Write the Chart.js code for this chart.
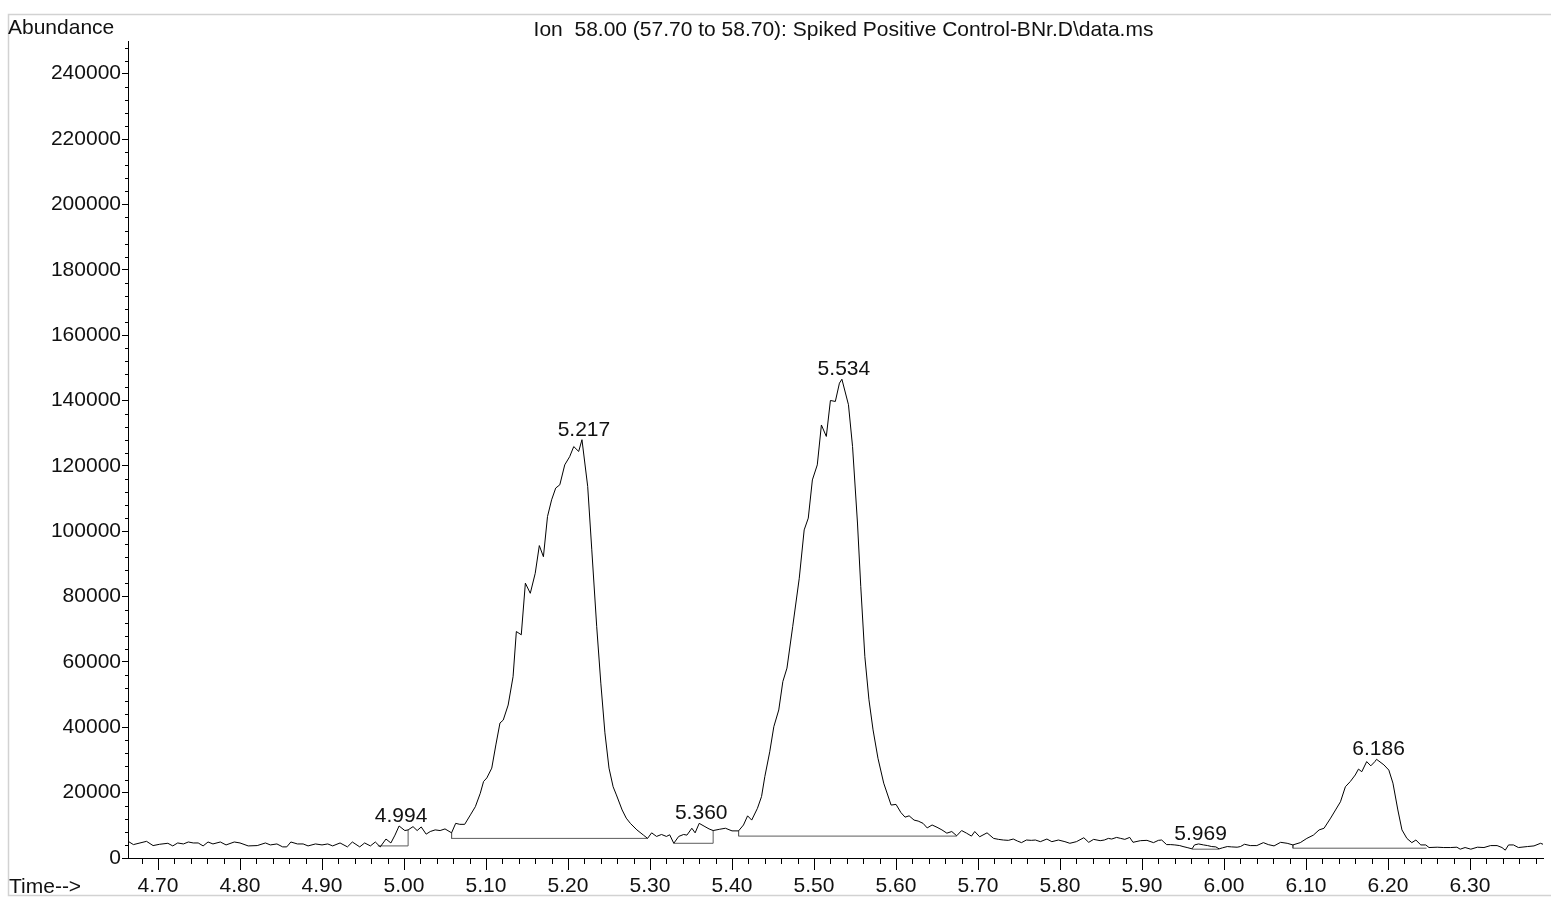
<!DOCTYPE html>
<html>
<head>
<meta charset="utf-8">
<script src="https://cdn.jsdelivr.net/npm/chart.js@4/dist/chart.umd.min.js"></script>
<style>
  html, body { margin: 0; padding: 0; background: #ffffff; overflow: hidden; }
  #wrap { width: 1551px; height: 899px; position: relative; }
  canvas { display: block; }
</style>
</head>
<body>
<div id="wrap"><canvas id="chart" width="1551" height="899"></canvas></div>
<script>
// Extracted ion chromatogram, m/z 58 (retention time in minutes, abundance in counts)
const times = [
  4.663, 4.670, 4.678, 4.686, 4.694, 4.702, 4.712, 4.718, 4.724, 4.731,
  4.737, 4.743, 4.749, 4.755, 4.761, 4.767, 4.776, 4.783, 4.793, 4.800,
  4.810, 4.821, 4.831, 4.837, 4.845, 4.852, 4.857, 4.862, 4.870, 4.877,
  4.883, 4.892, 4.900, 4.907, 4.913, 4.922, 4.931, 4.937, 4.946, 4.952,
  4.959, 4.965, 4.971, 4.978, 4.984, 4.989, 4.994, 5.001, 5.005, 5.011,
  5.016, 5.021, 5.027, 5.032, 5.038, 5.044, 5.050, 5.058, 5.063, 5.068,
  5.074, 5.081, 5.087, 5.093, 5.097, 5.101, 5.107, 5.112, 5.117, 5.121,
  5.127, 5.133, 5.137, 5.143, 5.148, 5.154, 5.160, 5.165, 5.170, 5.175,
  5.180, 5.185, 5.190, 5.196, 5.202, 5.207, 5.213, 5.217, 5.224, 5.229,
  5.235, 5.240, 5.245, 5.250, 5.255, 5.259, 5.266, 5.271, 5.276, 5.284,
  5.292, 5.297, 5.302, 5.308, 5.314, 5.320, 5.324, 5.329, 5.335, 5.341,
  5.345, 5.351, 5.355, 5.360, 5.367, 5.372, 5.377, 5.385, 5.392, 5.400,
  5.408, 5.414, 5.419, 5.424, 5.431, 5.436, 5.440, 5.446, 5.451, 5.457,
  5.462, 5.467, 5.474, 5.482, 5.488, 5.493, 5.498, 5.504, 5.509, 5.515,
  5.520, 5.526, 5.531, 5.534, 5.542, 5.547, 5.553, 5.557, 5.562, 5.567,
  5.572, 5.578, 5.585, 5.594, 5.600, 5.606, 5.611, 5.616, 5.622, 5.627,
  5.633, 5.638, 5.644, 5.650, 5.656, 5.662, 5.668, 5.674, 5.680, 5.686,
  5.692, 5.696, 5.702, 5.711, 5.719, 5.725, 5.731, 5.737, 5.743, 5.748,
  5.753, 5.759, 5.765, 5.770, 5.776, 5.784, 5.790, 5.798, 5.806, 5.812,
  5.820, 5.829, 5.835, 5.841, 5.849, 5.854, 5.859, 5.863, 5.869, 5.874,
  5.879, 5.885, 5.889, 5.898, 5.906, 5.914, 5.920, 5.924, 5.930, 5.935,
  5.940, 5.946, 5.950, 5.955, 5.961, 5.964, 5.969, 5.975, 5.980, 5.985,
  5.990, 5.994, 5.998, 6.004, 6.009, 6.016, 6.020, 6.025, 6.032, 6.040,
  6.048, 6.054, 6.061, 6.069, 6.077, 6.084, 6.093, 6.101, 6.109, 6.116,
  6.122, 6.130, 6.136, 6.142, 6.148, 6.154, 6.160, 6.164, 6.168, 6.174,
  6.179, 6.184, 6.186, 6.195, 6.201, 6.206, 6.212, 6.217, 6.223, 6.229,
  6.234, 6.240, 6.246, 6.250, 6.260, 6.268, 6.276, 6.284, 6.288, 6.294,
  6.301, 6.309, 6.317, 6.325, 6.333, 6.339, 6.343, 6.347, 6.353, 6.359,
  6.370, 6.378, 6.386, 6.389
];
const abundance = [
  5200, 4100, 4600, 5100, 3800, 4200, 4500, 3700, 4600, 4300,
  4900, 4600, 4600, 3700, 4900, 4300, 4900, 4000, 4900, 4600,
  3700, 3800, 4600, 4000, 4300, 3400, 3400, 4900, 4300, 4300,
  3700, 4300, 4000, 4300, 3700, 4600, 3400, 4900, 3400, 4600,
  3700, 4900, 3400, 5800, 4600, 7000, 9800, 8400, 8600, 9600,
  8400, 9500, 7300, 8100, 8600, 8400, 8900, 7700, 10600, 10300,
  10300, 13200, 15700, 19800, 23400, 24500, 27500, 34600, 41300, 42200,
  46800, 55500, 69300, 68300, 84100, 81000, 87100, 95600, 92200, 104500,
  109600, 113200, 114200, 120300, 122800, 125900, 124400, 128000, 113700, 94300,
  70800, 53500, 38300, 27500, 21800, 19300, 14700, 12200, 10600, 8600,
  7000, 6000, 7700, 6600, 7200, 6600, 7100, 4500, 6600, 7200,
  7000, 9100, 7700, 10600, 9600, 8900, 8400, 8800, 9100, 8300,
  8300, 10100, 12900, 11600, 15200, 18800, 24900, 32500, 40200, 45300,
  54000, 58100, 70800, 85600, 100400, 104000, 115700, 120300, 132500, 129000,
  140000, 139700, 145300, 146500, 138700, 125900, 102500, 83100, 61600, 48400,
  39200, 30500, 22900, 16200, 16400, 13900, 12500, 12900, 11600, 11300,
  10600, 9200, 10100, 9400, 8600, 7600, 8100, 6800, 8400, 7600,
  6700, 8100, 6500, 7700, 6000, 5700, 5500, 5400, 5800, 5200,
  4700, 5500, 5400, 5500, 5000, 5800, 5000, 5500, 5000, 4500,
  5000, 6200, 4800, 5700, 5300, 5500, 6000, 5800, 6300, 6000,
  5700, 6300, 4800, 5300, 5400, 4700, 5400, 5500, 4100, 4100,
  4000, 3800, 3500, 3200, 2800, 4000, 4300, 4000, 3800, 3500,
  3400, 2800, 3100, 3500, 3400, 3300, 3500, 4200, 3800, 3800,
  4700, 4100, 3700, 4800, 4500, 4000, 4700, 6000, 7000, 8600,
  9100, 12200, 14700, 17200, 21800, 23400, 25400, 27200, 26400, 29500,
  28200, 29500, 30200, 28500, 26900, 22900, 14700, 8600, 6000, 4700,
  5500, 4000, 4000, 3200, 3300, 3200, 3200, 3300, 2700, 3200,
  2700, 3300, 3200, 3800, 3800, 3200, 2400, 4000, 4000, 3200,
  3500, 3700, 4500, 4200
];

// Integrated peaks: retention time labels
const peakTimes = [4.994, 5.217, 5.360, 5.534, 5.969, 6.186];
const peakLabels = ['4.994', '5.217', '5.360', '5.534', '5.969', '6.186'];

// Integration baselines (time, abundance) for each peak
const base4994Times = [4.968, 5.005, 5.005];
const base4994Values = [3700, 3700, 8600];
const base5217Times = [5.058, 5.058, 5.297];
const base5217Values = [7700, 6000, 6000];
const base5360Times = [5.329, 5.377, 5.377];
const base5360Values = [4500, 4500, 8400];
const base5534Times = [5.408, 5.408, 5.674];
const base5534Values = [8300, 6700, 6700];
const base5969Times = [5.961, 5.994];
const base5969Values = [2700, 2700];
const base6186Times = [6.084, 6.084, 6.247];
const base6186Values = [4000, 3000, 3000];

// Axis ticks
const xTickLabels = ['4.70', '4.80', '4.90', '5.00', '5.10', '5.20', '5.30', '5.40',
  '5.50', '5.60', '5.70', '5.80', '5.90', '6.00', '6.10', '6.20', '6.30'];
const yTickLabels = ['0', '20000', '40000', '60000', '80000', '100000', '120000',
  '140000', '160000', '180000', '200000', '220000', '240000'];

const X_MIN = 4.6634, X_MAX = 6.389;
const Y_MIN = 0, Y_MAX = 250000;

const FONT = '"Liberation Sans", Arial, Helvetica, sans-serif';
const FONT_SIZE = 21;
const TEXT_COLOR = '#111111';

const toPoints = (ts, vs) => ts.map((t, i) => ({ x: t, y: vs[i] }));

const baselineSets = [
  [base4994Times, base4994Values],
  [base5217Times, base5217Values],
  [base5360Times, base5360Values],
  [base5534Times, base5534Values],
  [base5969Times, base5969Values],
  [base6186Times, base6186Values]
].map(([ts, vs]) => ({
  data: toPoints(ts, vs),
  borderColor: '#5c5c5c',
  borderWidth: 1,
  pointRadius: 0,
  tension: 0,
  fill: false
}));

// Outer frame of the report panel
const framePlugin = {
  id: 'frame',
  beforeDraw(chart) {
    const ctx = chart.ctx;
    ctx.save();
    ctx.fillStyle = '#ffffff';
    ctx.fillRect(0, 0, chart.width, chart.height);
    ctx.strokeStyle = '#d2d2d2';
    ctx.lineWidth = 1.5;
    ctx.beginPath();
    ctx.moveTo(chart.width, 14.5);
    ctx.lineTo(8.5, 14.5);
    ctx.lineTo(8.5, 895.5);
    ctx.lineTo(chart.width, 895.5);
    ctx.stroke();
    ctx.restore();
  }
};

// Minor tick marks on both axes
const minorTickPlugin = {
  id: 'minorTicks',
  afterDraw(chart) {
    const { ctx, chartArea: a } = chart;
    const xs = chart.scales.x, ys = chart.scales.y;
    ctx.save();
    ctx.strokeStyle = '#000000';
    ctx.lineWidth = 1;
    ctx.beginPath();
    for (let k = Math.ceil(xs.min / 0.02); k * 0.02 <= xs.max + 1e-9; k++) {
      if (k % 5 === 0) continue;
      const px = Math.round(xs.getPixelForValue(k * 0.02)) + 0.5;
      ctx.moveTo(px, a.bottom);
      ctx.lineTo(px, a.bottom + 6);
    }
    for (let k = 1; k * 4000 <= ys.max; k++) {
      if (k % 5 === 0) continue;
      const py = Math.round(ys.getPixelForValue(k * 4000)) + 0.5;
      ctx.moveTo(a.left - 3, py);
      ctx.lineTo(a.left, py);
    }
    ctx.stroke();
    ctx.restore();
  }
};

// Retention time labels above each integrated peak
const peakLabelPlugin = {
  id: 'peakLabels',
  afterDatasetsDraw(chart) {
    const { ctx } = chart;
    const xs = chart.scales.x, ys = chart.scales.y;
    ctx.save();
    ctx.font = FONT_SIZE + 'px ' + FONT;
    ctx.fillStyle = TEXT_COLOR;
    ctx.textAlign = 'center';
    ctx.textBaseline = 'alphabetic';
    peakTimes.forEach((t, i) => {
      const idx = times.indexOf(t);
      const apex = abundance[idx];
      ctx.fillText(peakLabels[i], xs.getPixelForValue(t) + 2, ys.getPixelForValue(apex) - 4);
    });
    ctx.restore();
  }
};

// Header and axis captions
const captionPlugin = {
  id: 'captions',
  afterDraw(chart) {
    const { ctx } = chart;
    ctx.save();
    ctx.font = FONT_SIZE + 'px ' + FONT;
    ctx.fillStyle = TEXT_COLOR;
    ctx.textBaseline = 'alphabetic';
    ctx.textAlign = 'left';
    ctx.fillText('Abundance', 8, 33.5);
    ctx.fillText('Time-->', 9, 893);
    ctx.textAlign = 'center';
    ctx.fillText('Ion  58.00 (57.70 to 58.70): Spiked Positive Control-BNr.D\\data.ms', 843.5, 36);
    ctx.restore();
  }
};

new Chart(document.getElementById('chart'), {
  type: 'line',
  data: {
    datasets: [
      {
        data: toPoints(times, abundance),
        borderColor: '#000000',
        borderWidth: 1,
        pointRadius: 0,
        tension: 0,
        fill: false
      },
      ...baselineSets
    ]
  },
  options: {
    responsive: false,
    animation: false,
    events: [],
    parsing: true,
    layout: { padding: { top: 41, right: 8, left: 0, bottom: 0 } },
    plugins: {
      legend: { display: false },
      tooltip: { enabled: false },
      title: { display: false }
    },
    scales: {
      x: {
        type: 'linear',
        min: X_MIN,
        max: X_MAX,
        afterBuildTicks: (s) => { s.ticks = xTickLabels.map(l => ({ value: Number(l) })); },
        afterFit: (s) => { s.height = 41; },
        grid: { drawOnChartArea: false, drawTicks: true, tickLength: 12, color: '#000000', lineWidth: 1 },
        border: { display: true, color: '#000000', width: 1 },
        ticks: {
          autoSkip: false, maxRotation: 0, minRotation: 0, padding: 4,
          color: TEXT_COLOR, font: { family: FONT, size: FONT_SIZE },
          callback: (v, i) => xTickLabels[i]
        }
      },
      y: {
        type: 'linear',
        min: Y_MIN,
        max: Y_MAX,
        afterBuildTicks: (s) => { s.ticks = yTickLabels.map(l => ({ value: Number(l) })); },
        afterFit: (s) => { s.width = 128; },
        grid: { drawOnChartArea: false, drawTicks: true, tickLength: 6, color: '#000000', lineWidth: 1 },
        border: { display: true, color: '#000000', width: 1 },
        ticks: {
          autoSkip: false, padding: 1,
          color: TEXT_COLOR, font: { family: FONT, size: FONT_SIZE },
          callback: (v, i) => yTickLabels[i]
        }
      }
    }
  },
  plugins: [framePlugin, minorTickPlugin, peakLabelPlugin, captionPlugin]
});
</script>
</body>
</html>
